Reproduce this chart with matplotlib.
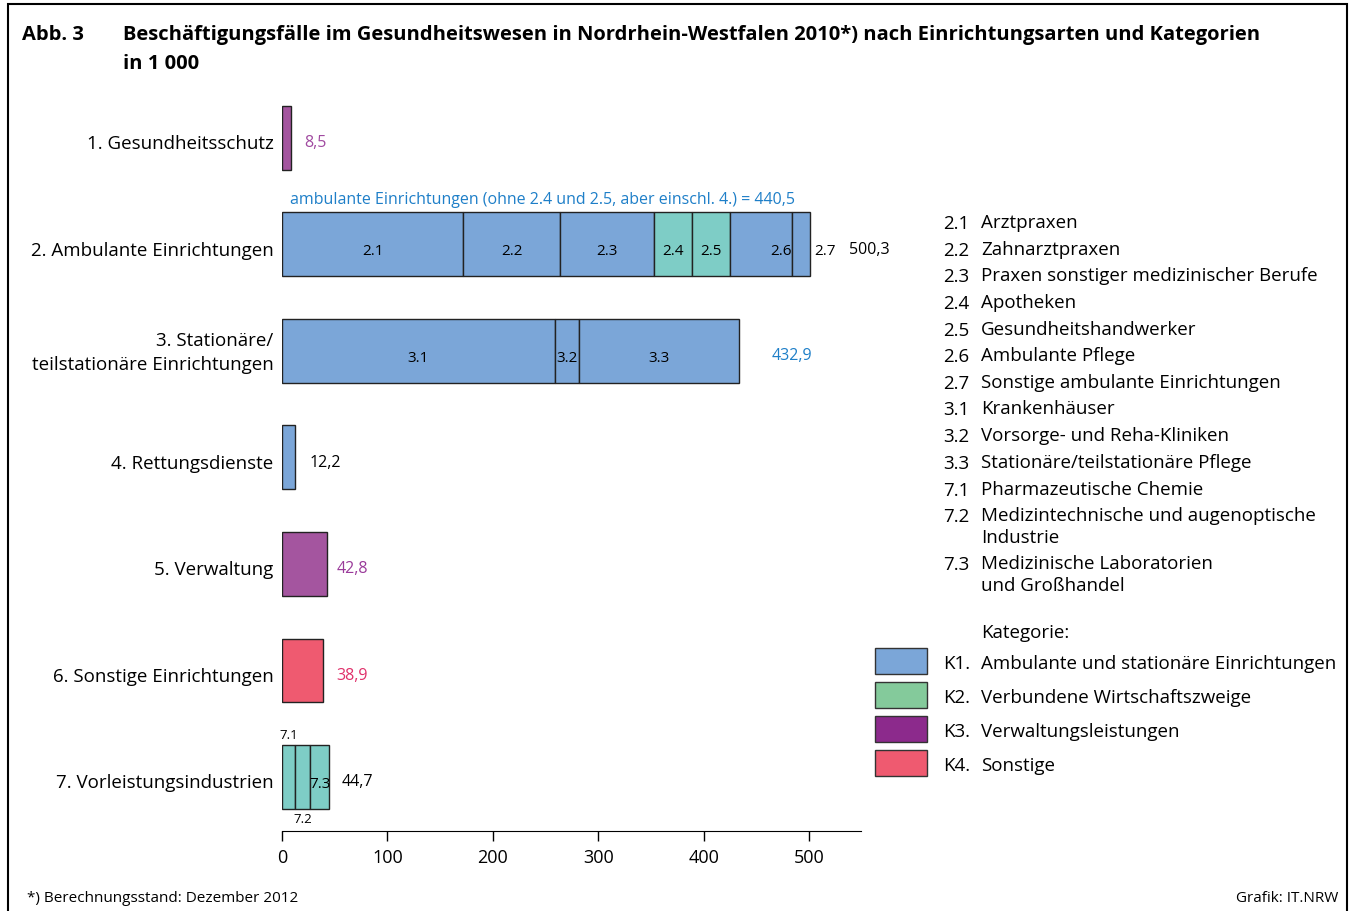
import matplotlib
matplotlib.use("Agg")
import matplotlib.pyplot as plt
from matplotlib.patches import Rectangle

plt.rcParams['font.family'] = ['Open Sans', 'DejaVu Sans']

# data (in 1 000)
rows = ["1. Gesundheitsschutz", "2. Ambulante Einrichtungen",
        "3. Stationäre/\nteilstationäre Einrichtungen", "4. Rettungsdienste",
        "5. Verwaltung", "6. Sonstige Einrichtungen", "7. Vorleistungsindustrien"]
seg_names = [["1"], ["2.1", "2.2", "2.3", "2.4", "2.5", "2.6", "2.7"],
             ["3.1", "3.2", "3.3"], ["4"], ["5"], ["6"], ["7.1", "7.2", "7.3"]]
seg_values = [[8.5], [171.7, 92.0, 89.3, 36.0, 36.0, 58.9, 16.4],
              [259.0, 22.8, 151.1], [12.2], [42.8], [38.9], [12.3, 14.2, 18.2]]
totals = ["8,5", "500,3", "432,9", "12,2", "42,8", "38,9", "44,7"]

legend_codes = ["2.1", "2.2", "2.3", "2.4", "2.5", "2.6", "2.7", "3.1", "3.2", "3.3", "7.1", "7.2", "7.3"]
legend_texts = ["Arztpraxen", "Zahnarztpraxen", "Praxen sonstiger medizinischer Berufe",
                "Apotheken", "Gesundheitshandwerker", "Ambulante Pflege",
                "Sonstige ambulante Einrichtungen", "Krankenhäuser",
                "Vorsorge- und Reha-Kliniken", "Stationäre/teilstationäre Pflege",
                "Pharmazeutische Chemie", "Medizintechnische und augenoptische\nIndustrie",
                "Medizinische Laboratorien\nund Großhandel"]
kat_codes = ["K1.", "K2.", "K3.", "K4."]
kat_texts = ["Ambulante und stationäre Einrichtungen", "Verbundene Wirtschaftszweige",
             "Verwaltungsleistungen", "Sonstige"]

BLUE = "#7ba6d8"
TEAL = "#7ecdc6"
PURPLE = "#a4559f"
RED = "#ef5a70"
kat_colors = [BLUE, "#84ca9b", "#8c2a8c", RED]

seg_colors = {"1": PURPLE, "4": BLUE, "5": PURPLE, "6": RED,
              "2.4": TEAL, "2.5": TEAL, "7.1": TEAL, "7.2": TEAL, "7.3": TEAL}
total_colors = ["#a04aa0", "black", "#1e7fc8", "black", "#9a3a9a", "#e0306a", "black"]

FS = 13.5

fig = plt.figure(figsize=(13.55, 9.11), dpi=100)
ax = fig.add_axes([0.2081, 0.0878, 0.4273, 0.831])

for i, (names, vals) in enumerate(zip(seg_names, seg_values)):
    left = 0
    for n, v in zip(names, vals):
        ax.barh(i, v, left=left, height=0.6, color=seg_colors.get(n, BLUE),
                edgecolor="#222222", linewidth=1)
        if len(names) > 1:
            if n == "2.6":
                ax.text(left + v - 1, i + 0.07, n, ha="right", va="center", fontsize=11)
            elif n == "2.7":
                ax.text(left + v + 4, i + 0.07, n, ha="left", va="center", fontsize=11)
            elif n == "7.1":
                ax.text(left + v / 2, i - 0.33, n, ha="center", va="bottom", fontsize=9.5)
            elif n == "7.2":
                ax.text(left + v / 2, i + 0.34, n, ha="center", va="top", fontsize=9.5)
            else:
                ax.text(left + v / 2, i + 0.07, n, ha="center", va="center", fontsize=11)
        left += v

offsets = [13, 37, 31, 14, 9, 13, 12]
for i, (vals, t) in enumerate(zip(seg_values, totals)):
    ax.text(sum(vals) + offsets[i], i + 0.05, t, ha="left", va="center",
            fontsize=11.5, color=total_colors[i])

ax.text(8, 0.58, "ambulante Einrichtungen (ohne 2.4 und 2.5, aber einschl. 4.) = 440,5",
        color="#1e7fc8", fontsize=11.5, ha="left", va="center")

ax.set_xlim(0, 549)
ax.set_ylim(6.507, -0.6)
label_pos = [i + 0.04 for i in range(len(rows))]
label_pos[2] = 2 - 0.03
ax.set_yticks(label_pos)
ax.set_yticklabels(rows, fontsize=FS, linespacing=1.45)
ax.tick_params(axis="y", length=0, pad=6)
ax.set_xticks([0, 100, 200, 300, 400, 500])
ax.tick_params(axis="x", labelsize=13, length=7, width=1, pad=6)
for s in ["top", "right", "left"]:
    ax.spines[s].set_visible(False)

# legend
H, W = 911, 1355
def fy(py):
    return 1 - py / H

ys = [222, 249, 275, 302, 329, 355, 382, 408, 435, 462, 489, 515, 563]
for y, c, t in zip(ys, legend_codes, legend_texts):
    fig.text(943 / W, fy(y + 2), c, fontsize=FS, va="center", ha="left")
    fig.text(981 / W, fy(y - 8), t, fontsize=FS, va="top", ha="left", linespacing=1.3)

fig.text(981 / W, fy(633), "Kategorie:", fontsize=FS, va="center", ha="left")
kys = [661, 695, 729, 763]
for y, c, t, col in zip(kys, kat_codes, kat_texts, kat_colors):
    fig.patches.append(Rectangle((875 / W, fy(y + 13)), 52 / W, 26 / H, facecolor=col,
                                 edgecolor="#333333", linewidth=1, transform=fig.transFigure))
    fig.text(943 / W, fy(y + 3), c, fontsize=FS, va="center", ha="left")
    fig.text(981 / W, fy(y + 3), t, fontsize=FS, va="center", ha="left")

# title
fig.text(22 / W, fy(35), "Abb. 3", fontsize=14.5, fontweight="bold", va="center")
fig.text(123 / W, fy(35), "Beschäftigungsfälle im Gesundheitswesen in Nordrhein-Westfalen 2010*) nach Einrichtungsarten und Kategorien",
         fontsize=14.5, fontweight="bold", va="center")
fig.text(123 / W, fy(64), "in 1 000", fontsize=14.5, fontweight="bold", va="center")

fig.text(27 / W, fy(899), "*) Berechnungsstand: Dezember 2012", fontsize=11, va="center")
fig.text(1338 / W, fy(899), "Grafik: IT.NRW", fontsize=11, va="center", ha="right")

# frame
fig.patches.append(Rectangle((8 / W, -0.05), 1339 / W, 1.05 - 4 / H, fill=False,
                             edgecolor="black", linewidth=1.5, transform=fig.transFigure))

fig.savefig("out.png", dpi=100)
